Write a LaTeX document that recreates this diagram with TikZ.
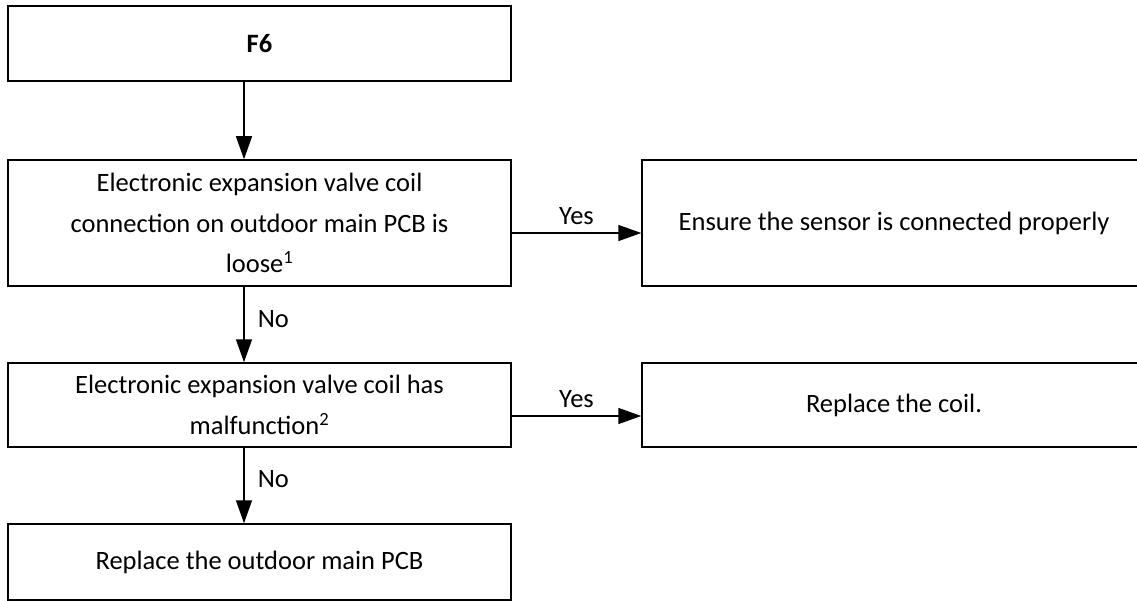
\documentclass[tikz,border=0pt]{standalone}
\usepackage{fontspec}
\setmainfont{Carlito}
\usetikzlibrary{arrows.meta}
\begin{document}
\begin{tikzpicture}[x=1pt,y=-1pt,
  box/.style={draw=black,line width=1.5pt,inner sep=0pt,align=center,font=\fontsize{26.5}{40.5}\selectfont},
  conn/.style={line width=1.5pt,-{Triangle[length=23pt,width=16pt]}},
  lab/.style={font=\fontsize{26.5}{30}\selectfont,inner sep=0pt}]
\useasboundingbox (0,0) rectangle (1137,601);
\node[box,minimum width=503pt,minimum height=75pt] (f6) at (259.5,43.5) {\textbf{F6}};
\node[box,minimum width=503pt,minimum height=126pt] (q1) at (259.5,223) {Electronic expansion valve coil\\connection on outdoor main PCB is\\loose\textsuperscript{1}};
\node[box,minimum width=503pt,minimum height=84pt] (q2) at (259.5,405) {Electronic expansion valve coil has\\malfunction\textsuperscript{2}};
\node[box,minimum width=503pt,minimum height=76pt] (pcb) at (259.5,562) {Replace the outdoor main PCB};
\node[box,minimum width=504pt,minimum height=126pt] (r1) at (894,223) {Ensure the sensor is connected properly};
\node[box,minimum width=504pt,minimum height=84pt] (r2) at (894,405) {Replace the coil.};
\draw[conn] ([xshift=-15.5pt]f6.south) -- ([xshift=-15.5pt]q1.north);
\draw[conn] ([xshift=-15.5pt]q1.south) -- node[lab,right=13pt,yshift=5pt] (no1) {No} ([xshift=-15.5pt]q2.north);
\draw[conn] ([xshift=-15.5pt]q2.south) -- node[lab,right=13pt,yshift=6pt] (no2) {No} ([xshift=-15.5pt]pcb.north);
\draw[conn] ([yshift=-10pt]q1.east) -- node[lab,above=8pt] (y1) {Yes} ([yshift=-10pt]r1.west);
\draw[conn] ([yshift=-11pt]q2.east) -- node[lab,above=8pt] (y2) {Yes} ([yshift=-11pt]r2.west);
\end{tikzpicture}
\end{document}
